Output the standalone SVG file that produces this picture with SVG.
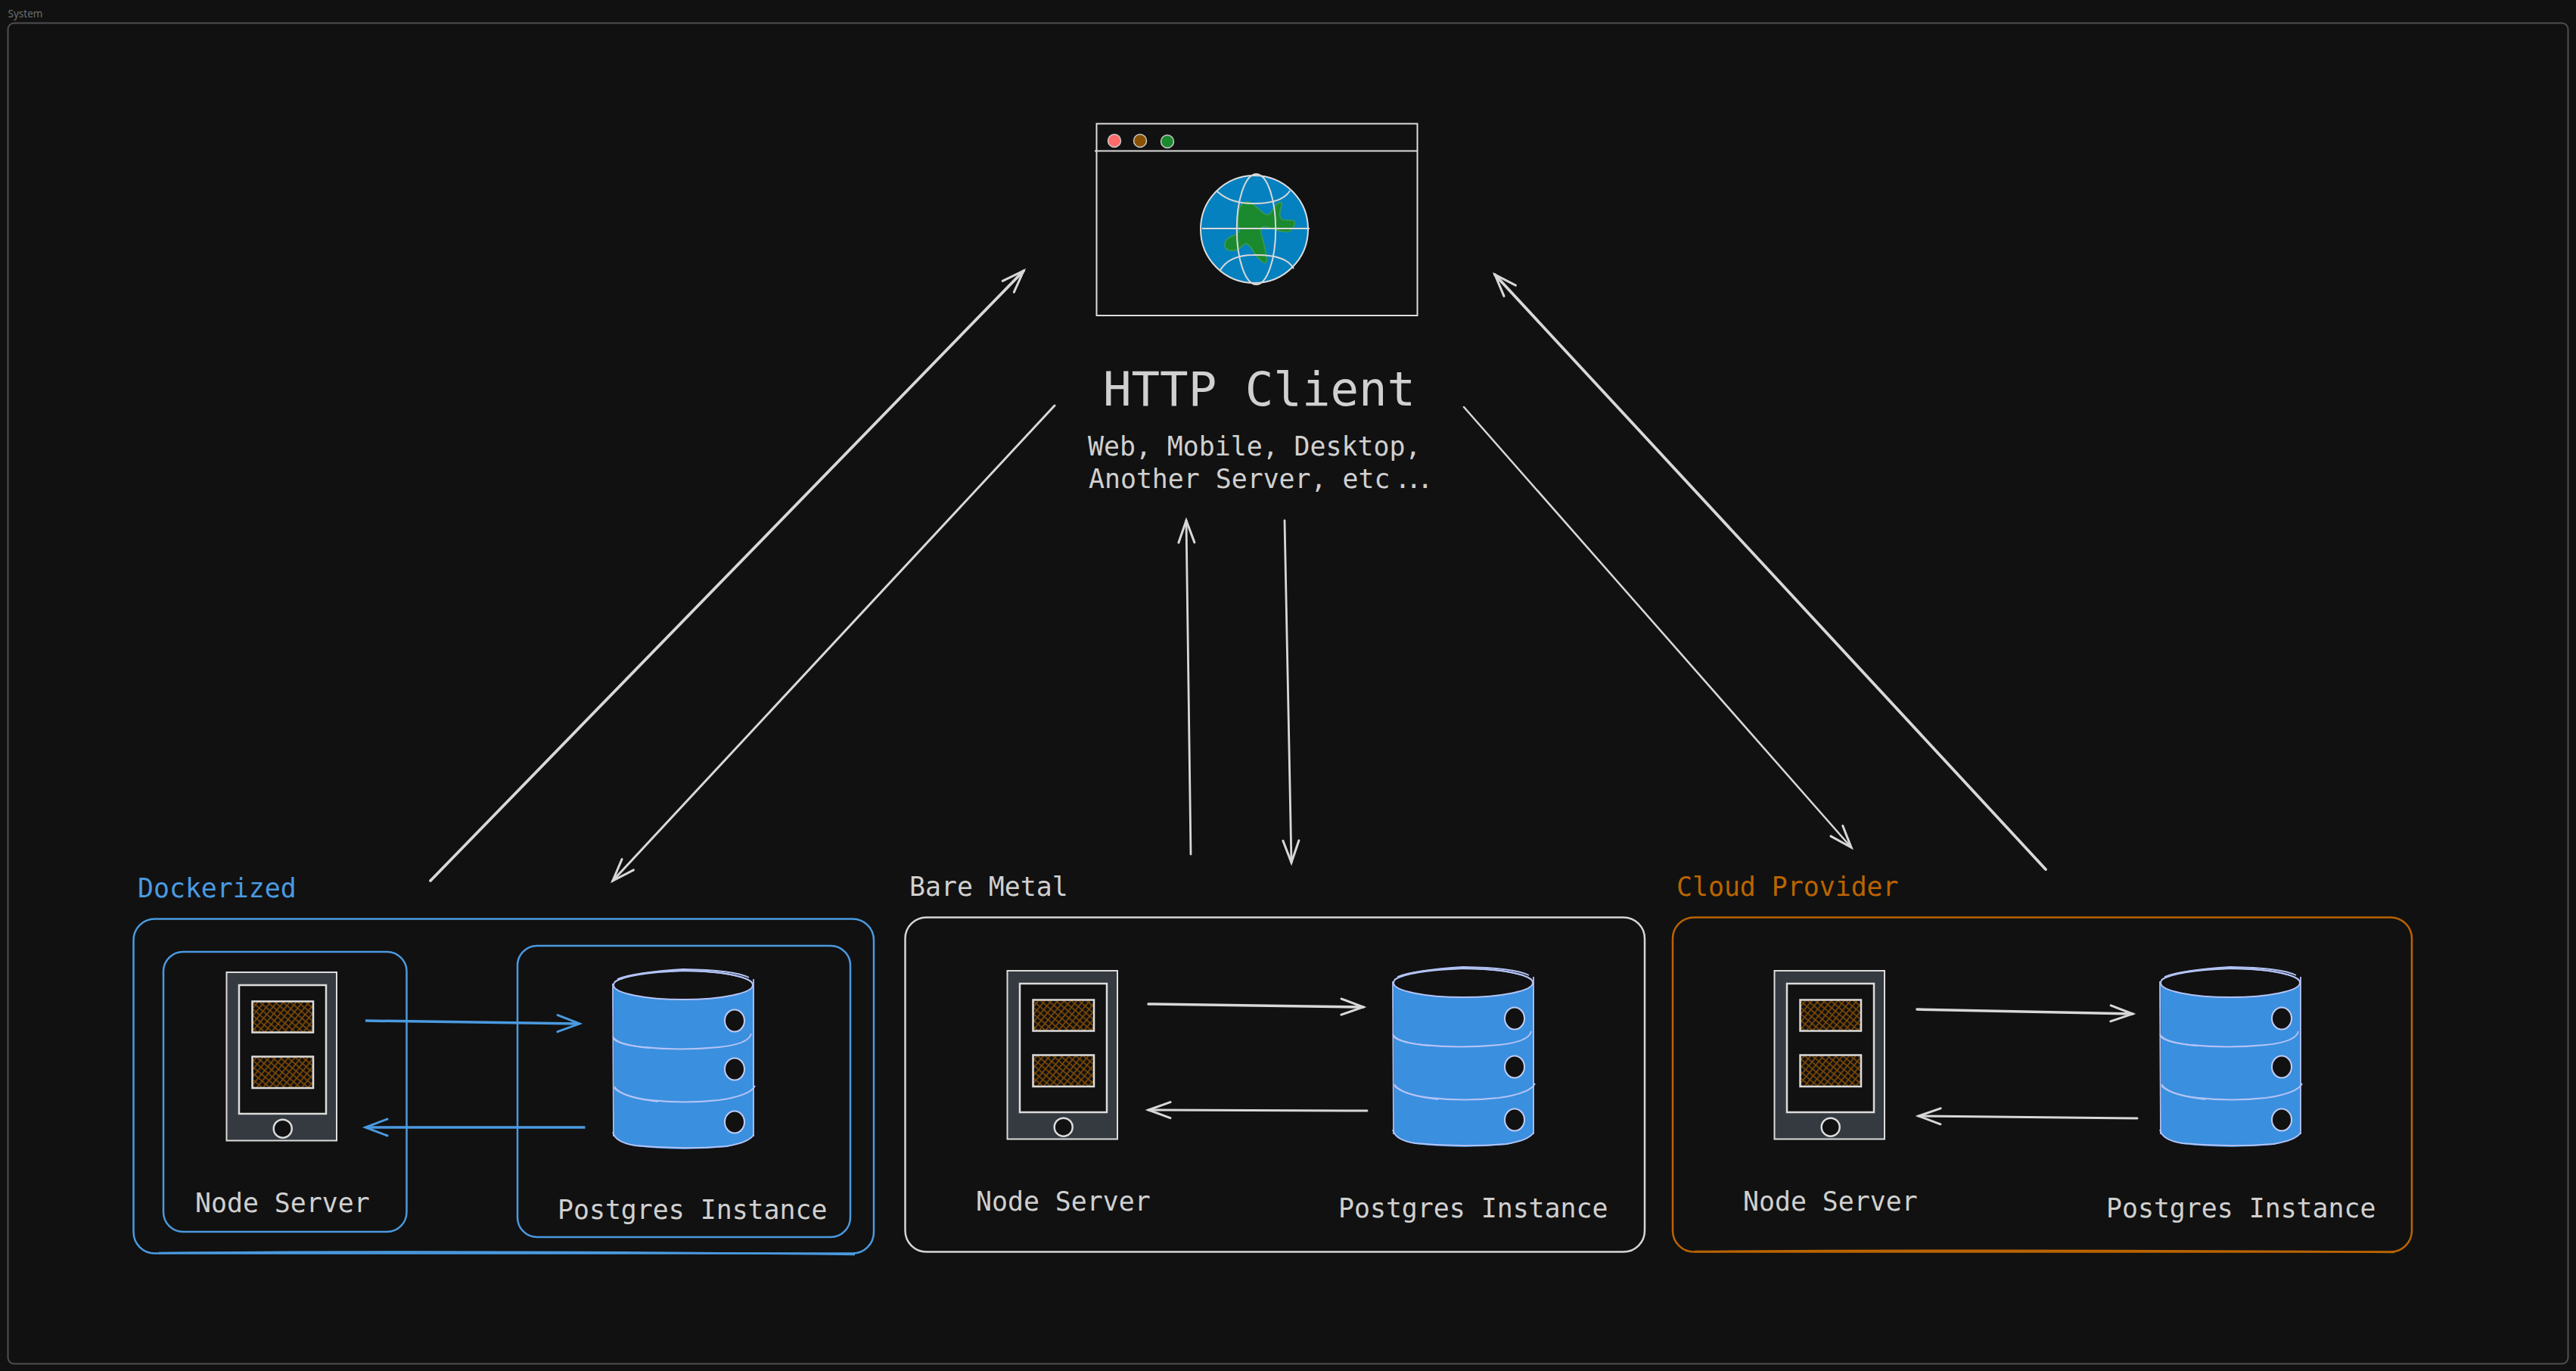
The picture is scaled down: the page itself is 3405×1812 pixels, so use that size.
<svg xmlns="http://www.w3.org/2000/svg" width="3405" height="1812" viewBox="0 0 3405 1812">
<style>
.t{font-family:"DejaVu Sans Mono","Liberation Mono",monospace;font-size:34.850px;fill:#d0d0d0}
.bl{stroke:#4a9ae0;stroke-width:2.500;fill:none}
.wh{stroke:#d6d6d6;stroke-width:2.500;fill:none}
.or{stroke:#ba6400;stroke-width:2.500;fill:none}
.ln{stroke:#d8d8d8;fill:none;stroke-width:3;stroke-linecap:round}
.cy{stroke:#b3c3f5;stroke-width:1.800;fill:none}
.hole{fill:#111111;stroke:#c0ccf5;stroke-width:2}
</style>
<defs>
<pattern id="hatch" width="6.500" height="6.500" patternUnits="userSpaceOnUse" patternTransform="rotate(40)">
<rect width="6.500" height="6.500" fill="#111111"/>
<path d="M0 0H6.500M0 0V6.500" stroke="#7d4804" stroke-width="3.400"/>
</pattern>
<marker id="ah" markerUnits="userSpaceOnUse" markerWidth="44" markerHeight="34" refX="35" refY="17" orient="auto">
<path d="M6 6.500L35 17L6 27.500" fill="none" stroke="#d8d8d8" stroke-width="3" stroke-linecap="round"/>
</marker>
<marker id="ab" markerUnits="userSpaceOnUse" markerWidth="44" markerHeight="34" refX="35" refY="17" orient="auto">
<path d="M6 6L35 17L6 28" fill="none" stroke="#4a9ae0" stroke-width="3" stroke-linecap="round"/>
</marker>
<g id="phone">
<rect x="299.500" y="1285" width="145.500" height="222.500" fill="#343a40" stroke="#dcdcdc" stroke-width="2"/>
<rect x="316" y="1302" width="115" height="170" fill="#111111" stroke="#dcdcdc" stroke-width="2.500"/>
<rect x="333.500" y="1323.500" width="80.500" height="41" fill="url(#hatch)" stroke="#dcdcdc" stroke-width="2.500"/>
<rect x="333.500" y="1396.500" width="80.500" height="41.500" fill="url(#hatch)" stroke="#dcdcdc" stroke-width="2.500"/>
<circle cx="373.700" cy="1491.700" r="12" fill="#111111" stroke="#dcdcdc" stroke-width="2.500"/>
</g>
<g id="cyl">
<path d="M811 1302L812 1500Q814 1510 840 1515Q900 1522 960 1516Q990 1510 996 1500V1300Z" fill="#3a8fdf"/>
<path class="cy" d="M810 1300L811 1502M996 1294V1502"/>
<path class="cy" d="M810 1496Q813 1510 840 1514Q900 1520 960 1515Q990 1510 996 1500"/>
<path class="cy" d="M810 1370Q815 1380 850 1384Q900 1389 950 1384Q990 1380 993 1366"/>
<path class="cy" d="M811 1373Q820 1382 860 1385"/>
<path class="cy" d="M812 1436Q820 1449 860 1454Q905 1459 950 1454Q992 1448 998 1435"/>
<path class="cy" d="M812 1438Q825 1451 870 1456"/>
<ellipse cx="903" cy="1302" rx="92" ry="19" fill="#111111" stroke="#b3c3f5" stroke-width="2"/>
<path class="cy" d="M812 1298Q830 1286 903 1283Q975 1284 994 1298"/>
<path class="cy" d="M816 1294Q840 1285 903 1281Q970 1282 990 1292"/>
<ellipse class="hole" cx="971" cy="1349" rx="13" ry="14.500"/>
<ellipse class="hole" cx="971" cy="1413" rx="13" ry="14.500"/>
<ellipse class="hole" cx="971" cy="1483" rx="13" ry="14.500"/>
</g>
</defs>
<rect width="3405" height="1812" fill="#111111"/>
<g id="system">
<rect x="10.500" y="30.500" width="3384" height="1772" rx="8" fill="none" stroke="#4f4f4f" stroke-width="2"/>
<text x="10.500" y="22.500" font-family="'Noto Sans','Liberation Sans',sans-serif" font-size="13.500" fill="#6e6e6e">System</text>
</g>
<g id="http-client">
<rect x="1449.500" y="163.500" width="424" height="253.500" fill="#111111" stroke="#dcdcdc" stroke-width="2"/>
<path d="M1447 199.500H1874" stroke="#dcdcdc" stroke-width="2"/>
<circle cx="1473" cy="186" r="8.500" fill="#ff6b6b" stroke="#c8c8c8" stroke-width="1.500"/>
<circle cx="1507" cy="186" r="8.500" fill="#8a5200" stroke="#c8c8c8" stroke-width="1.500"/>
<circle cx="1543" cy="187" r="8.500" fill="#1b8a2f" stroke="#c8c8c8" stroke-width="1.500"/>
<circle cx="1658" cy="303" r="71" fill="#0581bf" stroke="#dcdcdc" stroke-width="2"/>
<path d="M1643.500 268.500Q1650 264 1657 270.500Q1664 277 1670.500 282Q1677 287 1681.500 278.500Q1686 270 1691 268Q1696 266 1693.500 273Q1691 280 1692 286Q1693 292 1703.500 291Q1714 290 1710.500 298.500Q1707 307 1700 306.500Q1693 306 1681.500 302Q1670 298 1667.500 300.500Q1665 303 1669 316.500Q1673 330 1674 340.500Q1675 351 1668 345.500Q1661 340 1654.500 329Q1648 318 1642 325Q1636 332 1627 331Q1618 330 1619 322.500Q1620 315 1630 311.500Q1640 308 1638 302.500Q1636 297 1636.500 285Q1637 273 1643.500 268.500Z" fill="#1b8a2f" stroke="#3b9b4f" stroke-width="1.500"/>
<ellipse cx="1660.500" cy="303" rx="25.700" ry="73" fill="none" stroke="#d8d8d8" stroke-width="2"/>
<path d="M1589 302H1731" stroke="#d8d8d8" stroke-width="2"/>
<path d="M1608 252Q1625 269 1657 269Q1695 269 1705 252" fill="none" stroke="#d8d8d8" stroke-width="2"/>
<path d="M1613 357Q1625 337 1657 337Q1700 336 1710 355" fill="none" stroke="#d8d8d8" stroke-width="2"/>
<text class="t" x="1458" y="535.700" style="font-size:62.400px">HTTP Client</text>
<text class="t" x="1438" y="601.700">Web, Mobile, Desktop,</text>
<text class="t" x="1439" y="645">Another Server, etc<tspan dx="6" letter-spacing="-6">...</tspan></text>
</g>
<g id="dockerized">
<rect class="bl" x="176.500" y="1214.500" width="978.500" height="442" rx="28"/>
<path class="bl" d="M210 1656Q600 1652 1130 1658" stroke-width="2"/>
<rect class="bl" x="216" y="1258" width="321.500" height="370" rx="26"/>
<rect class="bl" x="684" y="1250" width="440" height="385" rx="26"/>
<use href="#phone"/>
<use href="#cyl"/>
<text class="t" x="182" y="1185.500" style="fill:#4a9ae0">Dockerized</text>
<text class="t" x="258" y="1602">Node Server</text>
<text class="t" x="737" y="1611">Postgres Instance</text>
</g>
<g id="bare-metal">
<rect class="wh" x="1196.500" y="1212.500" width="977.500" height="442" rx="28"/>
<use href="#phone" x="1032" y="-2"/>
<use href="#cyl" x="1031" y="-3"/>
<text class="t" x="1202" y="1183.500">Bare Metal</text>
<text class="t" x="1290" y="1600">Node Server</text>
<text class="t" x="1769" y="1609">Postgres Instance</text>
</g>
<g id="cloud-provider">
<rect class="or" x="2211" y="1212.500" width="977" height="442" rx="28"/>
<path class="or" d="M2240 1654Q2700 1651 3165 1655"/>
<use href="#phone" x="2046" y="-2"/>
<use href="#cyl" x="2045" y="-3"/>
<text class="t" x="2216" y="1183.500" style="fill:#ba6400">Cloud Provider</text>
<text class="t" x="2304" y="1600">Node Server</text>
<text class="t" x="2784" y="1609">Postgres Instance</text>
</g>
<g id="connectors">
<path class="ln" style="stroke-width:3.800" marker-end="url(#ah)" d="M569 1164L1353 358"/>
<path class="ln" marker-end="url(#ah)" d="M1394 536L810 1164"/>
<path class="ln" style="stroke-width:2.800" marker-end="url(#ah)" d="M1574 1129L1568 688"/>
<path class="ln" style="stroke-width:2.800" marker-end="url(#ah)" d="M1698 688L1707 1140"/>
<path class="ln" style="stroke-width:2.500" marker-end="url(#ah)" d="M1935 538L2447 1120"/>
<path class="ln" style="stroke-width:3.800" marker-end="url(#ah)" d="M2704 1149L1976 363"/>
<path class="bl" style="stroke-width:3.500" marker-end="url(#ab)" d="M483 1349L766 1353"/>
<path class="bl" style="stroke-width:3.500" marker-end="url(#ab)" d="M773.500 1490L483 1490"/>
<path class="ln" style="stroke-width:3.500" marker-end="url(#ah)" d="M1518 1327L1802 1331"/>
<path class="ln" marker-end="url(#ah)" d="M1807 1468L1518 1467"/>
<path class="ln" style="stroke-width:3.500" marker-end="url(#ah)" d="M2534 1334L2819 1340"/>
<path class="ln" marker-end="url(#ah)" d="M2825 1478L2536 1475"/>
</g>
</svg>
